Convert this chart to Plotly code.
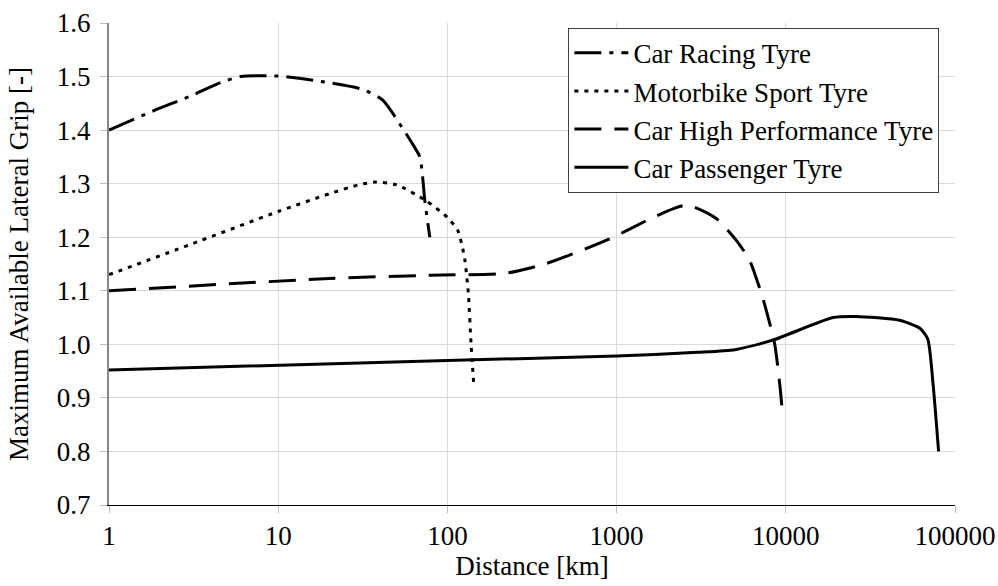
import plotly.graph_objects as go

# Distance travelled [km] vs. maximum available lateral grip [-]
racing_km = [1, 1.83, 3, 4.6, 6, 10, 17, 31.6, 41.5, 53.7, 62, 68.8, 71, 73.5, 78.7]
racing_grip = [1.40, 1.436, 1.463, 1.489, 1.50, 1.501, 1.492, 1.476, 1.456, 1.406,
               1.375, 1.35, 1.32, 1.269, 1.20]

moto_km = [1, 3, 10, 20, 30, 38, 50, 75, 100, 115, 122, 127, 133, 138, 143]
moto_grip = [1.13, 1.186, 1.248, 1.281, 1.298, 1.303, 1.298, 1.268, 1.237, 1.213,
             1.185, 1.156, 1.095, 1.00, 0.927]

hp_km = [1, 20, 79, 223, 385, 910, 1570, 2150, 2640, 3880, 5100, 6110, 7330, 8590,
         9270, 9480]
hp_grip = [1.10, 1.123, 1.129, 1.133, 1.151, 1.197, 1.234, 1.253, 1.26, 1.235, 1.194,
           1.157, 1.085, 1.001, 0.917, 0.883]

pass_km = [1, 100, 1000, 3000, 5000, 8400, 19000, 26000, 47000, 62000, 69000, 74000,
           80000]
pass_grip = [0.952, 0.97, 0.978, 0.985, 0.99, 1.008, 1.05, 1.052, 1.045, 1.03, 1.01,
             0.93, 0.80]

x_ticks = [1, 10, 100, 1000, 10000, 100000]
x_tick_text = ["1", "10", "100", "1000", "10000", "100000"]

FONT = "serif"
GRID = "#d9d9d9"

series = [
    ("Car Racing Tyre", racing_km, racing_grip, "27px,8px,4px,8px"),
    ("Motorbike Sport Tyre", moto_km, moto_grip, "4px,6px"),
    ("Car High Performance Tyre", hp_km, hp_grip, "27px,13px"),
    ("Car Passenger Tyre", pass_km, pass_grip, "solid"),
]

fig = go.Figure()
for name, xs, ys, dash in series:
    fig.add_trace(go.Scatter(
        x=xs, y=ys, name=name, mode="lines",
        line=dict(color="black", width=3, dash=dash, shape="spline", smoothing=0.6),
    ))

fig.update_layout(
    width=998, height=586,
    font=dict(family=FONT, size=27, color="black"),
    margin=dict(l=109, r=43, t=23, b=81),
    paper_bgcolor="white", plot_bgcolor="white",
    showlegend=True,
    legend=dict(
        x=0.543, y=0.99, xanchor="left", yanchor="top",
        bgcolor="white", bordercolor="#404040", borderwidth=1,
        itemwidth=54, font=dict(family=FONT, size=27, color="black"),
    ),
    xaxis=dict(
        type="log", range=[0, 5], automargin=False,
        tickvals=x_ticks, ticktext=x_tick_text,
        showgrid=True, gridcolor=GRID, gridwidth=1,
        showline=True, linecolor="black", linewidth=1,
        ticks="outside", ticklen=7, tickcolor="#bfbfbf",
        tickfont=dict(family=FONT, size=27, color="black"),
        title=dict(text="Distance [km]", standoff=4,
                   font=dict(family=FONT, size=27, color="black")),
        zeroline=False,
    ),
    yaxis=dict(
        range=[0.7, 1.6], dtick=0.1, tick0=0.7, tickformat=".1f", automargin=False,
        showgrid=True, gridcolor=GRID, gridwidth=1,
        showline=True, linecolor="#868686", linewidth=2,
        ticks="outside", ticklen=7, tickcolor="#bfbfbf", ticklabelstandoff=4,
        tickfont=dict(family=FONT, size=27, color="black"),
        title=dict(text="Maximum Available Lateral Grip [-]", standoff=20,
                   font=dict(family=FONT, size=27, color="black")),
        zeroline=False,
    ),
)

fig.write_html("out.html")
